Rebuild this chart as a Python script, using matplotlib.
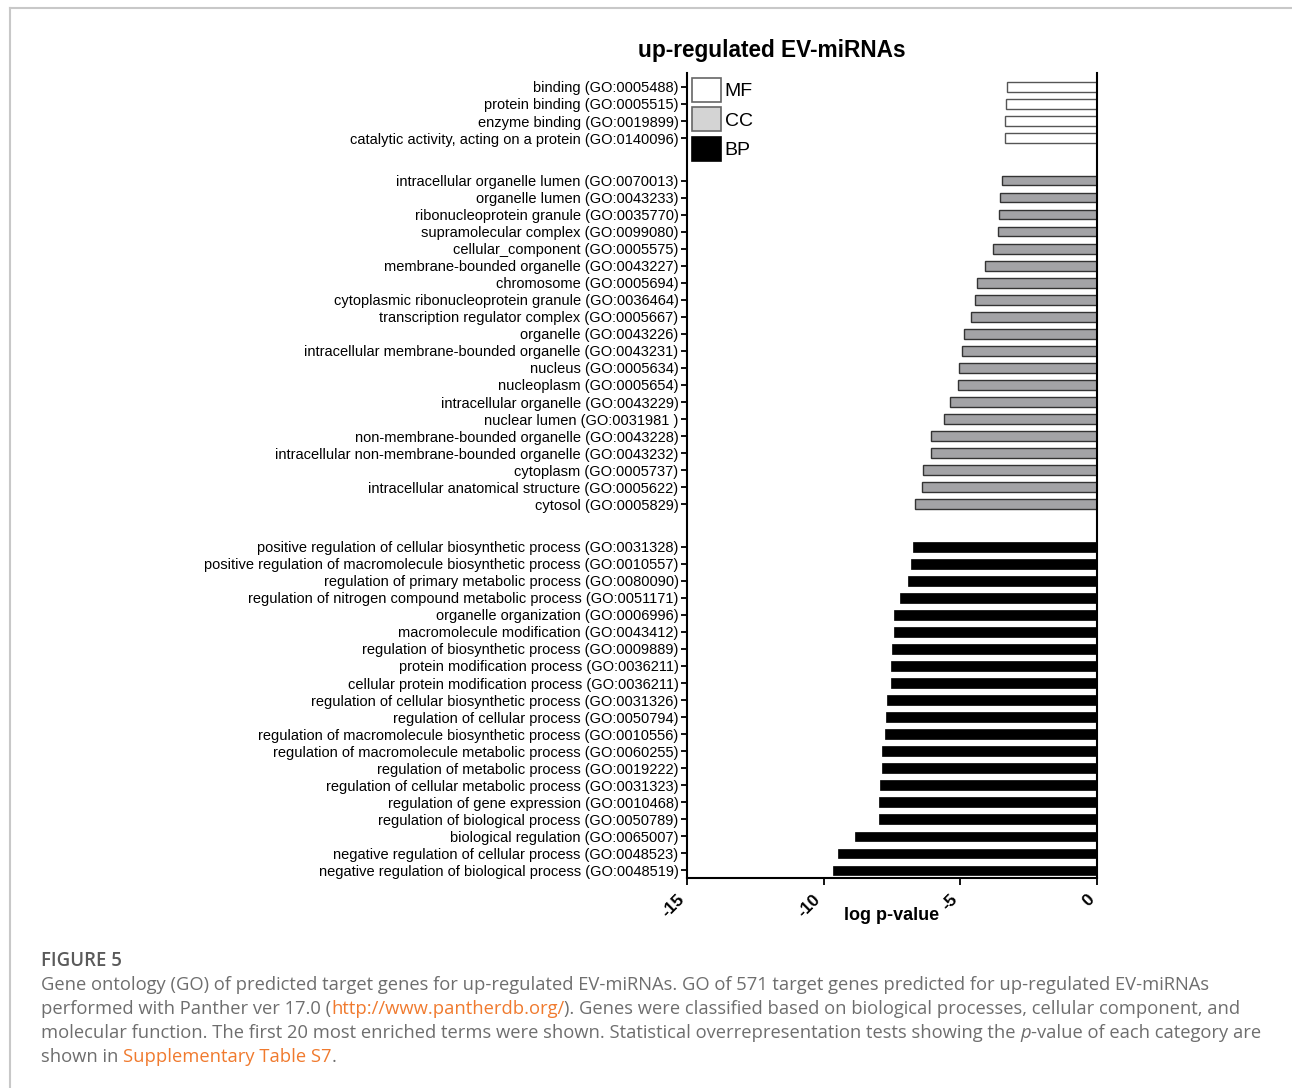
import numpy as np
import matplotlib.pyplot as plt
from matplotlib.patches import Patch
from matplotlib.lines import Line2D

plt.rcParams['font.family'] = ['Liberation Sans', 'DejaVu Sans']

# GO terms, top to bottom, with log p-values
mf_terms = [
    "binding (GO:0005488)",
    "protein binding (GO:0005515)",
    "enzyme binding (GO:0019899)",
    "catalytic activity, acting on a protein (GO:0140096)",
]
mf_vals = [-3.30, -3.33, -3.37, -3.37]

cc_terms = [
    "intracellular organelle lumen (GO:0070013)",
    "organelle lumen (GO:0043233)",
    "ribonucleoprotein granule (GO:0035770)",
    "supramolecular complex (GO:0099080)",
    "cellular_component (GO:0005575)",
    "membrane-bounded organelle (GO:0043227)",
    "chromosome (GO:0005694)",
    "cytoplasmic ribonucleoprotein granule (GO:0036464)",
    "transcription regulator complex (GO:0005667)",
    "organelle (GO:0043226)",
    "intracellular membrane-bounded organelle (GO:0043231)",
    "nucleus (GO:0005634)",
    "nucleoplasm (GO:0005654)",
    "intracellular organelle (GO:0043229)",
    "nuclear lumen (GO:0031981 )",
    "non-membrane-bounded organelle (GO:0043228)",
    "intracellular non-membrane-bounded organelle (GO:0043232)",
    "cytoplasm (GO:0005737)",
    "intracellular anatomical structure (GO:0005622)",
    "cytosol (GO:0005829)",
]
cc_vals = [-3.46, -3.56, -3.57, -3.62, -3.79, -4.11, -4.40, -4.46, -4.60, -4.85,
           -4.93, -5.06, -5.08, -5.38, -5.61, -6.09, -6.09, -6.38, -6.39, -6.65]

bp_terms = [
    "positive regulation of cellular biosynthetic process (GO:0031328)",
    "positive regulation of macromolecule biosynthetic process (GO:0010557)",
    "regulation of primary metabolic process (GO:0080090)",
    "regulation of nitrogen compound metabolic process (GO:0051171)",
    "organelle organization (GO:0006996)",
    "macromolecule modification (GO:0043412)",
    "regulation of biosynthetic process (GO:0009889)",
    "protein modification process (GO:0036211)",
    "cellular protein modification process (GO:0036211)",
    "regulation of cellular biosynthetic process (GO:0031326)",
    "regulation of cellular process (GO:0050794)",
    "regulation of macromolecule biosynthetic process (GO:0010556)",
    "regulation of macromolecule metabolic process (GO:0060255)",
    "regulation of metabolic process (GO:0019222)",
    "regulation of cellular metabolic process (GO:0031323)",
    "regulation of gene expression (GO:0010468)",
    "regulation of biological process (GO:0050789)",
    "biological regulation (GO:0065007)",
    "negative regulation of cellular process (GO:0048523)",
    "negative regulation of biological process (GO:0048519)",
]
bp_vals = [-6.74, -6.79, -6.93, -7.22, -7.43, -7.43, -7.51, -7.55, -7.55, -7.67,
           -7.71, -7.76, -7.87, -7.88, -7.93, -7.96, -7.99, -8.87, -9.49, -9.65]

xticks = [-15, -10, -5, 0]

# row positions, groups separated by a gap of 2.5 rows
gap = 2.5
y_mf = np.arange(len(mf_terms))
y_cc = y_mf[-1] + gap + np.arange(len(cc_terms))
y_bp = y_cc[-1] + gap + np.arange(len(bp_terms))

fig = plt.figure(figsize=(12.92, 10.88), dpi=100)
ax = fig.add_axes([0.5317, 0.1930, 0.3174, 0.7399])

h = 0.56
ax.barh(y_mf, mf_vals, height=h, color='white', edgecolor='#555555', linewidth=1.0)
ax.barh(y_cc, cc_vals, height=h, color='#a3a3a6', edgecolor='#333333', linewidth=1.0)
ax.barh(y_bp, bp_vals, height=h, color='black', edgecolor='black', linewidth=0.5)

ax.set_xlim(-15, 0)
ax.set_ylim(y_bp[-1] + 0.45, -0.82)
ax.set_yticks(np.concatenate([y_mf, y_cc, y_bp]))
ax.set_yticklabels(mf_terms + cc_terms + bp_terms, fontsize=10.5)
ax.set_xticks(xticks)
ax.set_xticklabels([str(t) for t in xticks], rotation=45, ha='right',
                   fontsize=12.5, fontweight='bold')

for s in ['left', 'right', 'bottom']:
    ax.spines[s].set_linewidth(1.5)
ax.spines['top'].set_visible(False)
ax.tick_params(axis='y', length=4, width=1.3, pad=2)
ax.tick_params(axis='x', length=5, width=1.3, pad=5)

ax.set_xlabel("log p-value", fontsize=13, fontweight='bold')
ax.xaxis.set_label_coords(0.5, -0.046)
ax.xaxis.label.set_va('center')

handles = [Patch(facecolor='white', edgecolor='#666666', linewidth=1.2),
           Patch(facecolor='#d4d4d4', edgecolor='#666666', linewidth=1.2),
           Patch(facecolor='black', edgecolor='black', linewidth=1.2)]
ax.legend(handles, ['MF', 'CC', 'BP'], loc='upper left', frameon=False,
          fontsize=14, handlelength=1.5, handleheight=1.5, labelspacing=0.3,
          handletextpad=0.2, borderpad=0, borderaxespad=0.25)

fig.text(0.597, 0.954, "up-regulated EV-miRNAs", ha='center', va='center',
         fontsize=16.3, fontweight='bold')

# card border
fig.add_artist(Line2D([10 / 1292, 1], [1 - 8 / 1088] * 2, color='#c8c8c8', lw=1.5))
fig.add_artist(Line2D([10 / 1292] * 2, [0, 1 - 8 / 1088], color='#c8c8c8', lw=1.5))

# caption
gray = '#6e6e6e'
orange = '#f07a2e'
cap_font = ['Open Sans', 'DejaVu Sans']
fig.text(41 / 1292, 1 - 961 / 1088, "FIGURE 5", fontsize=13.4, fontweight='semibold',
         color='#5a5a5a', family=cap_font, va='center')

lines = [
    [("Gene ontology (GO) of predicted target genes for up-regulated EV-miRNAs. "
      "GO of 571 target genes predicted for up-regulated EV-miRNAs", gray, 'normal')],
    [("performed with Panther ver 17.0 (", gray, 'normal'),
     ("http://www.pantherdb.org/", orange, 'normal'),
     ("). Genes were classified based on biological processes, cellular component, and",
      gray, 'normal')],
    [("molecular function. The first 20 most enriched terms were shown. Statistical "
      "overrepresentation tests showing the ", gray, 'normal'),
     ("p", gray, 'italic'),
     ("-value of each category are", gray, 'normal')],
    [("shown in ", gray, 'normal'), ("Supplementary Table S7", orange, 'normal'),
     (".", gray, 'normal')],
]
renderer = fig.canvas.get_renderer()
inv = fig.transFigure.inverted()
for i, parts in enumerate(lines):
    yc = 1 - (985 + 24 * i) / 1088
    x = 41 / 1292
    for txt, col, style in parts:
        t = fig.text(x, yc, txt, fontsize=13.2, color=col, style=style,
                     family=cap_font, va='center')
        bb = t.get_window_extent(renderer)
        x = inv.transform((bb.x1, bb.y0))[0]

fig.savefig('out.png', dpi=100, facecolor='white')
